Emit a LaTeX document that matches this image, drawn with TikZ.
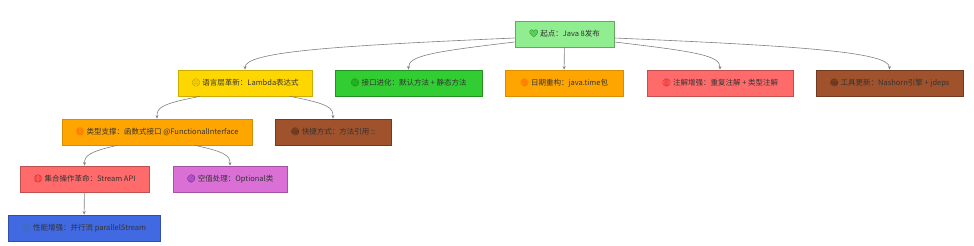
\documentclass[tikz,border=0pt]{standalone}
\usepackage{fontspec}
\setmainfont{Noto Sans CJK SC}
\newfontfamily\emojifont{Noto Emoji}
\usetikzlibrary{arrows.meta}

\definecolor{rootgreen}{HTML}{90EE90}
\definecolor{gold}{HTML}{FFD700}
\definecolor{limegreen}{HTML}{32CD32}
\definecolor{orange}{HTML}{FFA500}
\definecolor{lightred}{HTML}{FF6B6B}
\definecolor{sienna}{HTML}{A0522D}
\definecolor{orchid}{HTML}{DA70D6}
\definecolor{royalblue}{HTML}{4169E1}
\definecolor{labeltext}{HTML}{333333}
\newcommand{\icon}[2]{{\emojifont\textcolor{#1}{#2}}}

\begin{document}
\begin{tikzpicture}[
  x=1pt, y=-1pt,
  box/.style={draw, line width=0.8pt, minimum height=26pt, inner sep=3pt,
    font=\fontsize{7.5}{9}\selectfont, text=labeltext},
  arrow/.style={-{Stealth[length=3.5pt,width=3pt]}, draw=gray, line width=0.6pt}
]
\useasboundingbox (0,0) rectangle (974,246);

\node[box, fill=rootgreen, draw=rootgreen!70!black, minimum width=99pt] (root) at (564.5,34)
  {\icon{green!50!black}{💚} 起点：Java 8发布};

\node[box, fill=gold, draw=gold!80!black, minimum width=134pt] (lambda) at (245,83)
  {\icon{gold!55!black}{🟡} 语言层革新：Lambda表达式};
\node[box, fill=limegreen, draw=limegreen!70!black, minimum width=147pt] (iface) at (408.5,83)
  {\icon{green!45!black}{🟢} 接口进化：默认方法 + 静态方法};
\node[box, fill=orange, draw=orange!85!black, minimum width=118pt] (datetime) at (564,83)
  {\icon{orange!60!red}{🟠} 日期重构：java.time包};
\node[box, fill=lightred, draw=lightred!75!black, minimum width=146pt] (annot) at (720,83)
  {\icon{red!85!black}{🔴} 注解增强：重复注解 + 类型注解};
\node[box, fill=sienna, draw=sienna!70!black, minimum width=147pt] (tools) at (889.5,83)
  {\icon{sienna!45!black}{🟤} 工具更新：Nashorn引擎 + jdeps};

\node[box, fill=orange, draw=orange!85!black, minimum width=190pt] (funcif) at (157,132)
  {\icon{orange!60!red}{🟠} 类型支撑：函数式接口 @FunctionalInterface};
\node[box, fill=sienna, draw=sienna!70!black, minimum width=116pt] (methref) at (333,132)
  {\icon{sienna!45!black}{🟤} 快捷方式：方法引用 ::};

\node[box, fill=lightred, draw=lightred!75!black, minimum width=129pt] (stream) at (84.5,179)
  {\icon{red!85!black}{🔴} 集合操作革命：Stream API};
\node[box, fill=orchid, draw=orchid!75!black, minimum width=114pt] (optional) at (230,179)
  {\icon{blue!55!purple!80!black}{🟣} 空值处理：Optional类};

\node[box, fill=royalblue, draw=royalblue!75!black, minimum width=152pt] (parallel) at (84,228)
  {\icon{cyan!60!blue!70!black}{🔵} 性能增强：并行流 parallelStream};

% Java 8 -> level one
\draw[arrow] ([yshift=-4pt]root.west) .. controls (330,46) and (245,52) .. (lambda.north);
\draw[arrow] ([yshift=-8pt]root.west) .. controls (430,52) and (408.5,56) .. (iface.north);
\draw[arrow] (root) -- (datetime);
\draw[arrow] ([yshift=-8pt]root.east) .. controls (700,52) and (720,56) .. (annot.north);
\draw[arrow] ([yshift=-4pt]root.east) .. controls (800,46) and (889.5,52) .. (tools.north);

% Lambda branch
\draw[arrow] ([xshift=-45pt]lambda.south) .. controls (160,104) and (157,108) .. (funcif.north);
\draw[arrow] ([xshift=45pt]lambda.south) .. controls (330,104) and (333,108) .. (methref.north);
\draw[arrow] ([xshift=-40pt]funcif.south) .. controls (88,152) and (84.5,156) .. (stream.north);
\draw[arrow] ([xshift=38pt]funcif.south) .. controls (226,152) and (230,156) .. (optional.north);
\draw[arrow] (stream) -- (parallel);
\end{tikzpicture}
\end{document}
